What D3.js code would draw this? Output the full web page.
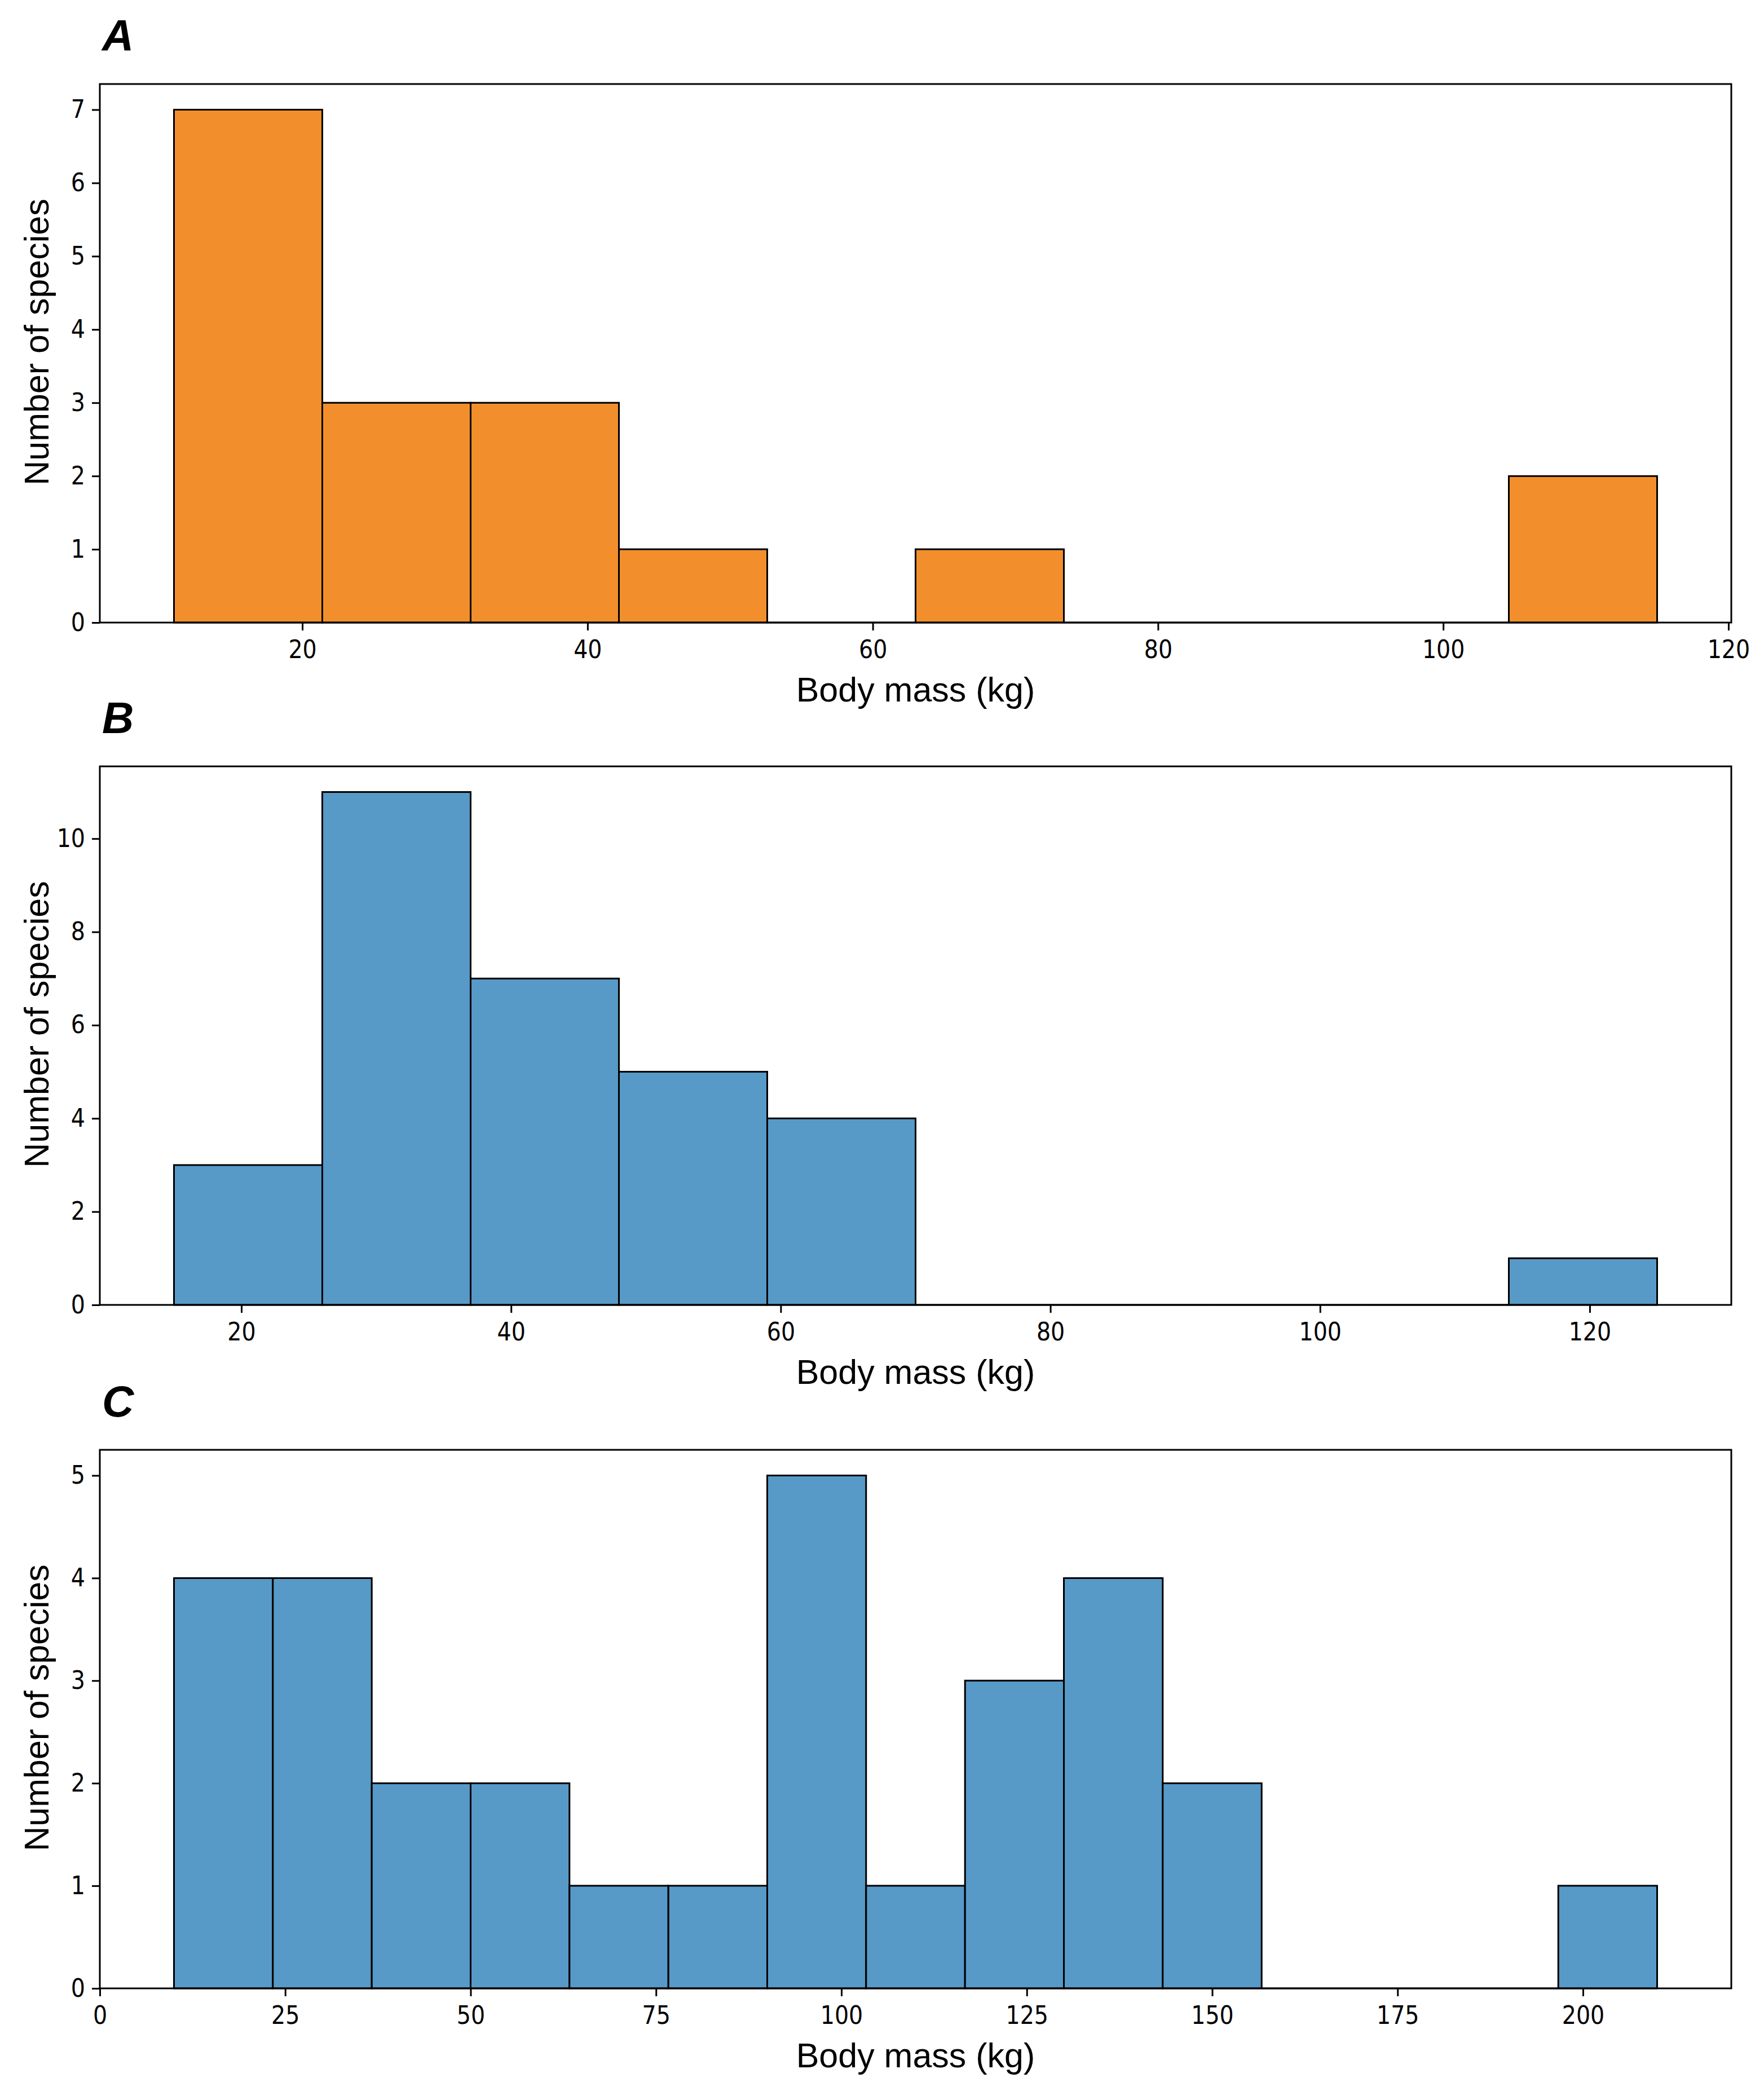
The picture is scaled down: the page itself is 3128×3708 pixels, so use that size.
<!DOCTYPE html>
<html>
<head>
<meta charset="utf-8">
<script src="https://cdn.jsdelivr.net/npm/d3@7"></script>
<style>
  body { margin: 0; background: #fff; }
  .tick text { font-family: "DejaVu Sans Condensed", "DejaVu Sans", sans-serif; font-size: 44px; fill: #000; }
  .axis-label { font-family: "Liberation Sans", Arial, sans-serif; font-size: 61px; fill: #000; }
  .panel-letter { font-family: "Liberation Sans", Arial, sans-serif; font-size: 78px; font-weight: bold; font-style: italic; }
</style>
</head>
<body>
<svg id="chart" width="3128" height="3708"></svg>
<script>
// Panel A (orange)
const edgesA = [11.0, 21.4, 31.8, 42.2, 52.6, 63.0, 73.4, 83.8, 94.2, 104.6, 115.0];
const countsA = [7, 3, 3, 1, 0, 1, 0, 0, 0, 2];
const xTicksA = [20, 40, 60, 80, 100, 120];
const yTicksA = [0, 1, 2, 3, 4, 5, 6, 7];

// Panel B (blue)
const edgesB = [15, 26, 37, 48, 59, 70, 81, 92, 103, 114, 125];
const countsB = [3, 11, 7, 5, 4, 0, 0, 0, 0, 1];
const xTicksB = [20, 40, 60, 80, 100, 120];
const yTicksB = [0, 2, 4, 6, 8, 10];

// Panel C (blue)
const edgesC = [10, 23.33, 36.67, 50, 63.33, 76.67, 90, 103.33, 116.67, 130, 143.33, 156.67, 170, 183.33, 196.67, 210];
const countsC = [4, 4, 2, 2, 1, 1, 5, 1, 3, 4, 2, 0, 0, 0, 1];
const xTicksC = [0, 25, 50, 75, 100, 125, 150, 175, 200];
const yTicksC = [0, 1, 2, 3, 4, 5];

const svg = d3.select("#chart");

const left = 177, right = 3070, plotH = 955;

function drawPanel(opts) {
    const g = svg.append("g").attr("transform", `translate(0, ${opts.top})`);

    const x = d3.scaleLinear().domain(opts.xDomain).range([left, right]);
    const y = d3.scaleLinear().domain([0, opts.yMax]).range([plotH, 0]);

    const bins = opts.counts.map((c, i) => ({ x0: opts.edges[i], x1: opts.edges[i + 1], n: c }));

    // bars (paths so that empty bins still show their edge on the baseline)
    g.selectAll(".bar")
        .data(bins)
        .enter().append("path")
        .attr("class", "bar")
        .attr("d", d => `M${x(d.x0)},${y(0)}V${y(d.n)}H${x(d.x1)}V${y(0)}Z`)
        .attr("fill", opts.color)
        .attr("stroke", "#000")
        .attr("stroke-width", 3);

    // frame
    g.append("rect")
        .attr("x", left).attr("y", 0)
        .attr("width", right - left).attr("height", plotH)
        .attr("fill", "none")
        .attr("stroke", "#000")
        .attr("stroke-width", 3);

    const xAxis = g.append("g")
        .attr("transform", `translate(0, ${plotH})`)
        .call(d3.axisBottom(x).tickValues(opts.xTicks).tickSize(14).tickPadding(18).tickFormat(d3.format("d")));
    xAxis.select(".domain").remove();
    xAxis.selectAll(".tick line").attr("stroke-width", 3);

    const yAxis = g.append("g")
        .attr("transform", `translate(${left}, 0)`)
        .call(d3.axisLeft(y).tickValues(opts.yTicks).tickSize(14).tickPadding(12).tickFormat(d3.format("d")));
    yAxis.select(".domain").remove();
    yAxis.selectAll(".tick line").attr("stroke-width", 3);

    g.append("text")
        .attr("class", "axis-label")
        .attr("x", (left + right) / 2)
        .attr("y", plotH + 140)
        .attr("text-anchor", "middle")
        .text("Body mass (kg)");

    g.append("text")
        .attr("class", "axis-label")
        .attr("transform", `translate(86, ${plotH / 2 - 20}) rotate(-90)`)
        .attr("text-anchor", "middle")
        .text("Number of species");

    g.append("text")
        .attr("class", "panel-letter")
        .attr("x", 181)
        .attr("y", -59)
        .text(opts.letter);
}

drawPanel({ letter: "A", top: 149, edges: edgesA, counts: countsA, xTicks: xTicksA, yTicks: yTicksA,
            xDomain: [5.8, 120.2], yMax: 7.35, color: "#f28f2c" });
drawPanel({ letter: "B", top: 1359, edges: edgesB, counts: countsB, xTicks: xTicksB, yTicks: yTicksB,
            xDomain: [9.5, 130.5], yMax: 11.55, color: "#5799c7" });
drawPanel({ letter: "C", top: 2571, edges: edgesC, counts: countsC, xTicks: xTicksC, yTicks: yTicksC,
            xDomain: [0, 220], yMax: 5.25, color: "#5799c7" });
</script>
</body>
</html>
